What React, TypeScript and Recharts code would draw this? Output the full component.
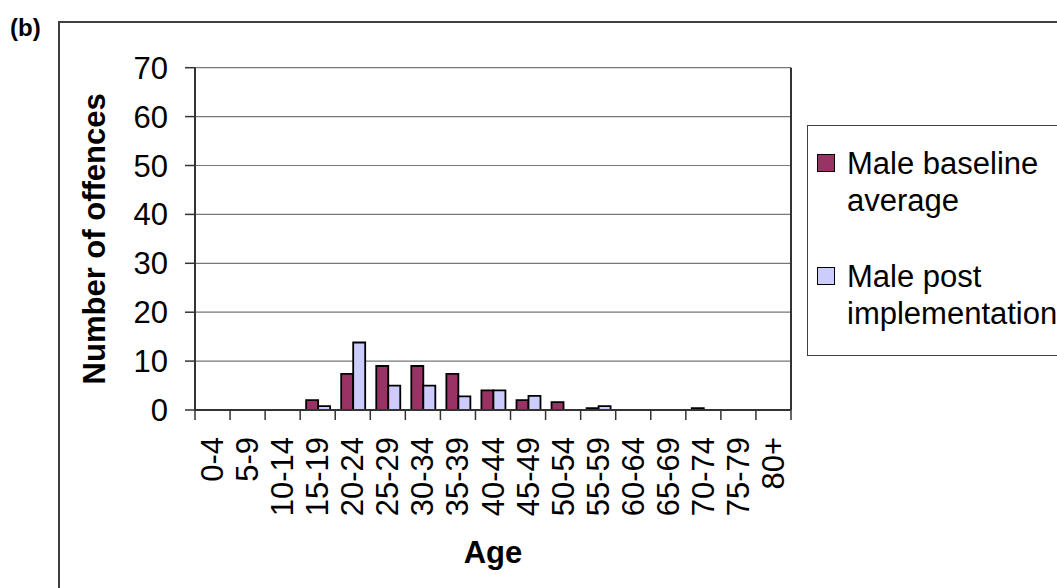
import React from "react";
import {
  BarChart,
  Bar,
  XAxis,
  YAxis,
  CartesianGrid,
} from "recharts";

const AGE_GROUPS = [
  "0-4", "5-9", "10-14", "15-19", "20-24", "25-29", "30-34", "35-39",
  "40-44", "45-49", "50-54", "55-59", "60-64", "65-69", "70-74", "75-79", "80+",
];
const BASELINE = [0, 0, 0, 2, 7.4, 9, 9, 7.4, 4, 2, 1.6, 0.4, 0, 0, 0.4, 0, 0];
const POST = [0, 0, 0, 0.8, 13.8, 5, 5, 2.8, 4, 2.9, 0, 0.8, 0, 0, 0, 0, 0];
const Y_TICKS = [0, 10, 20, 30, 40, 50, 60, 70];

const SERIES = [
  { key: "baseline", name: "Male baseline average", lines: ["Male baseline", "average"], color: "#993366" },
  { key: "post", name: "Male post implementation", lines: ["Male post", "implementation"], color: "#CCCCFF" },
];

const data = AGE_GROUPS.map((age, i) => ({ age, baseline: BASELINE[i], post: POST[i] }));

const FONT = "'Liberation Sans', Arial, sans-serif";
const AXIS = "#333333";

function AgeTick(props: any) {
  const { x, y, payload, index, visibleTicksCount } = props;
  const half = payload?.offset ?? 17.5;
  const axisY = y - 27;
  const last = index === (visibleTicksCount ?? AGE_GROUPS.length) - 1;
  return (
    <g>
      <line x1={x - half} x2={x - half} y1={axisY} y2={axisY + 10} stroke={AXIS} strokeWidth={1.5} />
      {last && (
        <line x1={x + half} x2={x + half} y1={axisY} y2={axisY + 10} stroke={AXIS} strokeWidth={1.5} />
      )}
      <text
        x={x}
        y={y}
        transform={`rotate(-90, ${x}, ${y})`}
        textAnchor="end"
        dominantBaseline="central"
        fontSize={31}
        fontFamily={FONT}
        fill="#000"
      >
        {payload.value}
      </text>
    </g>
  );
}

function LegendBox() {
  return (
    <div
      style={{
        position: "absolute",
        left: 807,
        top: 125,
        width: 270,
        height: 231,
        border: "1.5px solid #404040",
        boxSizing: "border-box",
        background: "#fff",
        fontFamily: FONT,
        fontSize: 31,
        lineHeight: "37px",
        whiteSpace: "nowrap",
      }}
    >
      {SERIES.map((s, i) => (
        <div key={s.key}>
          <div
            style={{
              position: "absolute",
              left: 9,
              top: i === 0 ? 28 : 141,
              width: 18,
              height: 18,
              background: s.color,
              border: "1.5px solid #000",
              boxSizing: "border-box",
            }}
          />
          <div style={{ position: "absolute", left: 39, top: i === 0 ? 19 : 132, color: "#000" }}>
            {s.lines.map((l) => (
              <div key={l}>{l}</div>
            ))}
          </div>
        </div>
      ))}
    </div>
  );
}

export default function App() {
  return (
    <div
      style={{
        position: "absolute",
        left: 0,
        top: 0,
        width: 1057,
        height: 588,
        overflow: "hidden",
        background: "#fff",
      }}
    >
      <div
        style={{
          position: "absolute",
          left: 58,
          top: 21,
          width: 1100,
          height: 700,
          borderTop: "2px solid #404040",
          borderLeft: "2px solid #404040",
        }}
      />
      <div
        style={{
          position: "absolute",
          left: 10,
          top: 16,
          fontFamily: FONT,
          fontWeight: "bold",
          fontSize: 24,
          lineHeight: "24px",
        }}
      >
        (b)
      </div>
      <div style={{ position: "absolute", left: 0, top: 0 }}>
        <BarChart
          width={1057}
          height={588}
          data={data}
          margin={{ top: 67.7, right: 266, bottom: 0, left: 0 }}
          barCategoryGap="17%"
          barGap={0}
        >
          <CartesianGrid vertical={false} stroke="#777" strokeWidth={1.2} />
          <CartesianGrid
            horizontal={false}
            stroke={AXIS}
            strokeWidth={2}
            verticalCoordinatesGenerator={({ offset }: any) => [offset.left + offset.width]}
          />
          <XAxis
            dataKey="age"
            height={178}
            interval={0}
            tickLine={false}
            tickSize={10}
            tickMargin={17}
            tick={<AgeTick />}
            axisLine={{ stroke: AXIS, strokeWidth: 2 }}
            label={(p: any) => {
              const vb = p.viewBox;
              return (
                <text
                  x={vb.x + vb.width / 2}
                  y={563}
                  textAnchor="middle"
                  fontSize={31}
                  fontWeight="bold"
                  fontFamily={FONT}
                  fill="#000"
                >
                  Age
                </text>
              );
            }}
          />
          <YAxis
            width={195}
            domain={[0, 70]}
            ticks={Y_TICKS}
            interval={0}
            tickSize={10}
            tickMargin={17}
            tick={{ fontSize: 31, fontFamily: FONT, fill: "#000" }}
            tickLine={{ stroke: AXIS, strokeWidth: 1.5 }}
            axisLine={{ stroke: AXIS, strokeWidth: 2 }}
            label={(p: any) => {
              const vb = p.viewBox;
              const cy = vb.y + vb.height / 2;
              return (
                <text
                  x={95}
                  y={cy}
                  transform={`rotate(-90, 95, ${cy})`}
                  textAnchor="middle"
                  dominantBaseline="central"
                  fontSize={31}
                  fontWeight="bold"
                  fontFamily={FONT}
                  fill="#000"
                >
                  Number of offences
                </text>
              );
            }}
          />
          {SERIES.map((s) => (
            <Bar
              key={s.key}
              dataKey={s.key}
              name={s.name}
              fill={s.color}
              stroke="#000"
              strokeWidth={1.8}
              isAnimationActive={false}
            />
          ))}
        </BarChart>
      </div>
      <LegendBox />
    </div>
  );
}
